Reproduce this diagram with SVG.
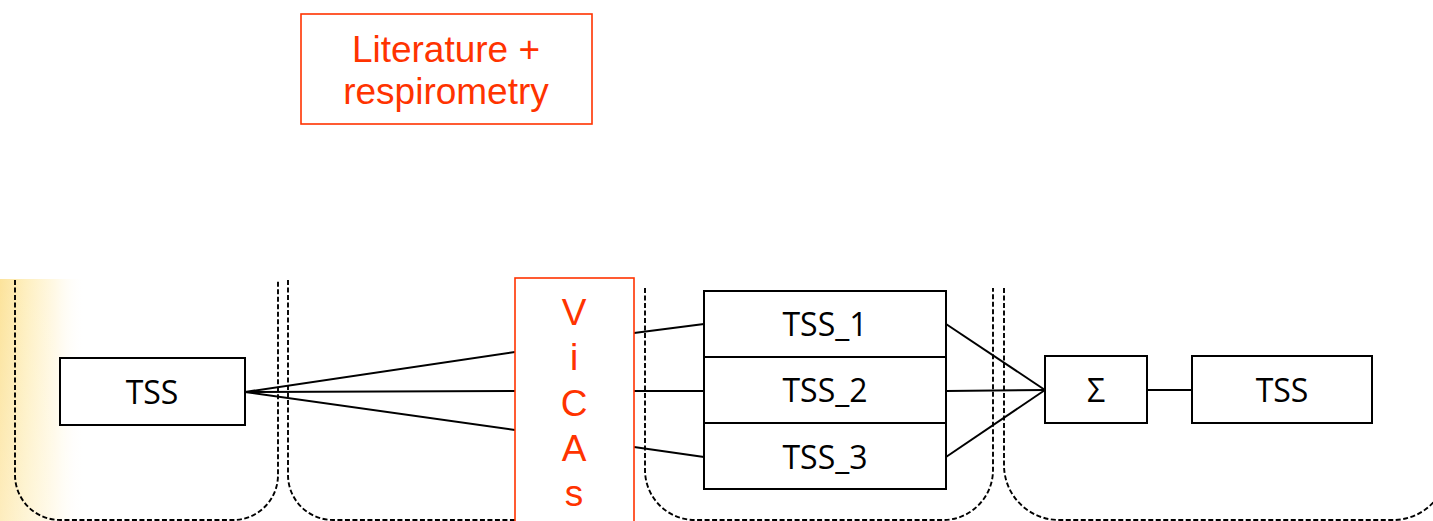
<svg xmlns="http://www.w3.org/2000/svg" width="1433" height="521" viewBox="0 0 1433 521">
  <defs>
    <linearGradient id="sideGlow" x1="0" y1="0" x2="1" y2="0">
      <stop offset="0" stop-color="#FCE39B"/>
      <stop offset="0.3" stop-color="#FEEFBF"/>
      <stop offset="0.65" stop-color="#FFF9E6"/>
      <stop offset="1" stop-color="#FFFFFF" stop-opacity="0"/>
    </linearGradient>
    <linearGradient id="glowFade" x1="0" y1="0" x2="0" y2="1">
      <stop offset="0" stop-color="#FFFFFF" stop-opacity="0"/>
      <stop offset="1" stop-color="#FFFFFF" stop-opacity="0.35"/>
    </linearGradient>
  </defs>
  <style>
    .lane { fill: none; stroke: #000; stroke-width: 1.9; stroke-dasharray: 5 2.5; }
    .box { fill: #fff; stroke: #000; stroke-width: 2; }
    .rbox { fill: #fff; stroke: #FF3300; stroke-width: 1.6; }
    .lbl { font-family: "Open Sans", "Noto Sans", sans-serif; font-size: 32px; fill: #000; text-anchor: middle; }
    .rlbl { font-family: "Liberation Sans", Arial, sans-serif; font-size: 37px; fill: #FF3300; text-anchor: middle; }
    .wire { fill: none; stroke: #000; stroke-width: 2; }
  </style>

  <rect width="1433" height="521" fill="#fff"/>
  <!-- soft golden band on the left edge -->
  <rect x="0" y="279" width="85" height="242" fill="url(#sideGlow)"/>
  <rect x="0" y="279" width="85" height="242" fill="url(#glowFade)"/>

  <!-- dashed swim lanes, open at the top -->
  <g id="lanes">
    <path class="lane" d="M15,280 V475 A45,45 0 0 0 60,520 H233 A45,45 0 0 0 278,475 V280"/>
    <path class="lane" d="M288,280 V475 A45,45 0 0 0 333,520 H563 A45,45 0 0 0 608,475 V280"/>
    <path class="lane" d="M645,288 V470 A50,50 0 0 0 695,520 H943 A50,50 0 0 0 993,470 V288"/>
    <path class="lane" d="M1004,288 V465 A55,55 0 0 0 1059,520 H1393 A55,55 0 0 0 1448,465 V288"/>
  </g>

  <!-- connectors -->
  <g id="connectors">
    <line class="wire" x1="245" y1="392" x2="515" y2="352"/>
    <line class="wire" x1="245" y1="392" x2="515" y2="391"/>
    <line class="wire" x1="245" y1="392" x2="515" y2="430"/>
    <line class="wire" x1="634" y1="333" x2="704" y2="324"/>
    <line class="wire" x1="634" y1="391" x2="704" y2="391"/>
    <line class="wire" x1="634" y1="447" x2="704" y2="457"/>
    <line class="wire" x1="946" y1="324" x2="1045" y2="390"/>
    <line class="wire" x1="946" y1="391" x2="1045" y2="390"/>
    <line class="wire" x1="946" y1="457" x2="1045" y2="390"/>
    <line class="wire" x1="1147" y1="390" x2="1192" y2="390"/>
  </g>

  <g id="literature">
    <rect class="rbox" x="301" y="14" width="291" height="110"/>
    <text class="rlbl" x="446" y="62">Literature +</text>
    <text class="rlbl" x="446" y="104">respirometry</text>
  </g>

  <g id="tss-in">
    <rect class="box" x="60" y="358" width="185" height="67"/>
    <text class="lbl" x="152" y="404">TSS</text>
  </g>

  <g id="vicas">
    <rect class="rbox" x="515" y="278" width="119" height="250"/>
    <text class="rlbl" x="574" y="325">V</text>
    <text class="rlbl" x="574" y="370">i</text>
    <text class="rlbl" x="574" y="416">C</text>
    <text class="rlbl" x="574" y="461">A</text>
    <text class="rlbl" x="574" y="506">s</text>
  </g>

  <g id="tss-1">
    <rect class="box" x="704" y="291" width="242" height="66"/>
    <text class="lbl" x="825" y="336">TSS_1</text>
  </g>
  <g id="tss-2">
    <rect class="box" x="704" y="357" width="242" height="66"/>
    <text class="lbl" x="825" y="402">TSS_2</text>
  </g>
  <g id="tss-3">
    <rect class="box" x="704" y="423" width="242" height="66"/>
    <text class="lbl" x="825" y="469">TSS_3</text>
  </g>

  <g id="sum">
    <rect class="box" x="1045" y="356" width="102" height="67"/>
    <text class="lbl" x="1096" y="402">Σ</text>
  </g>

  <g id="tss-out">
    <rect class="box" x="1192" y="356" width="180" height="67"/>
    <text class="lbl" x="1282" y="402">TSS</text>
  </g>
</svg>
